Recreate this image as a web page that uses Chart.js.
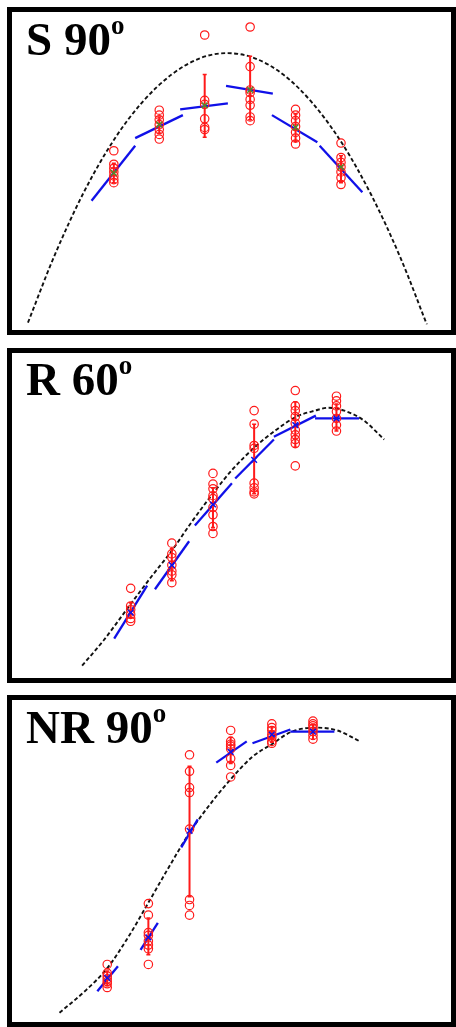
<!DOCTYPE html>
<html>
<head>
<meta charset="utf-8">
<script src="https://cdn.jsdelivr.net/npm/chart.js@4.4.0/dist/chart.umd.min.js"></script>
<style>
  body { margin: 0; background: #fff; width: 456px; height: 1027px; overflow: hidden; position: relative; }
  .panel { position: absolute; left: 7px; width: 449px; box-sizing: border-box; border: 5px solid #000; background: #fff; }
  .panel canvas { display: block; }
  .label { position: absolute; left: 26px; font-family: "Liberation Serif", "Times New Roman", serif; font-weight: bold; font-size: 47px; line-height: 46px; color: #000; white-space: nowrap; }
  .label sup { font-size: 27px; vertical-align: 21px; line-height: 0; }
</style>
</head>
<body>
<div class="panel" style="top:7px;height:328px"><canvas id="s90" width="439" height="318"></canvas></div>
<div class="panel" style="top:348px;height:335px"><canvas id="r60" width="439" height="325"></canvas></div>
<div class="panel" style="top:695px;height:332px"><canvas id="nr90" width="439" height="322"></canvas></div>
<div class="label" style="top:16px">S 90<sup>o</sup></div>
<div class="label" style="top:356px">R 60<sup>o</sup></div>
<div class="label" style="top:704px">NR 90<sup>o</sup></div>
<script>
// group positions along x (same six conditions in each panel)
const groupX = [1, 2, 3, 4, 5, 6];

// ---- S 90 ----
const s90Circles = [
    [56.6, 52.2, 50.9, 49.7, 48.4, 47.2, 46.2],
    [69.8, 68.2, 66.7, 65.1, 63.5, 61.9, 60.4],
    [94.3, 73.0, 71.7, 67.0, 64.2, 63.5],
    [96.9, 84.0, 76.4, 75.5, 73.3, 71.4, 67.6, 66.4],
    [70.1, 68.2, 66.4, 64.5, 62.6, 60.7, 58.8],
    [59.1, 54.4, 52.8, 51.3, 49.7, 47.8, 45.6]
];
const s90Means = [49.4, 65.1, 71.4, 76.4, 64.2, 51.3];
const s90ErrLow = [46.2, 62.3, 61.0, 66.7, 59.7, 46.2];
const s90ErrHigh = [52.5, 67.6, 81.4, 87.4, 68.6, 55.0];
const s90FitX = [[0.51, 1.47], [1.47, 2.52], [2.46, 3.51], [3.47, 4.50], [4.48, 5.48], [5.53, 6.47]];
const s90FitY = [[40.3, 58.2], [60.7, 68.2], [70.1, 72.0], [77.7, 75.2], [68.2, 59.4], [58.2, 43.1]];
const s90CurveX = [-0.89, -0.31, 0.33, 1.00, 1.62, 2.27, 2.91, 3.49, 4.09, 4.73, 5.38, 6.02, 6.67, 7.31, 7.89];
const s90CurveY = [0.6, 22.3, 42.8, 60.1, 72.3, 81.4, 86.8, 88.4, 86.8, 81.4, 72.0, 59.1, 42.1, 21.7, 0.0];

// ---- R 60 ----
const r60Circles = [
    [26.8, 21.2, 20.0, 18.5, 17.2, 16.3],
    [41.2, 37.8, 36.6, 34.2, 32.3, 31.1, 28.6],
    [63.4, 60.0, 58.5, 56.3, 55.4, 52.6, 50.2, 46.5, 44.3],
    [83.4, 79.1, 72.3, 71.4, 60.3, 58.8, 57.5, 56.9],
    [89.8, 84.9, 83.4, 81.5, 79.4, 77.2, 75.7, 74.2, 72.9, 65.8],
    [88.0, 86.5, 84.9, 83.1, 80.9, 78.8, 76.9]
];
const r60Means = [19.1, 34.2, 53.5, 67.7, 78.8, 80.9];
const r60ErrLow = [17.5, 29.2, 46.2, 56.9, 71.7, 76.9];
const r60ErrHigh = [22.2, 39.4, 58.8, 79.1, 86.2, 85.5];
const r60FitX = [[0.60, 1.40], [1.59, 2.42], [2.56, 3.46], [3.54, 4.48], [4.48, 5.50], [5.48, 6.55]];
const r60FitY = [[10.8, 27.7], [26.5, 41.8], [46.8, 60.3], [61.8, 74.2], [75.1, 81.8], [80.9, 80.9]];
const r60CurveX = [-0.18, 0.34, 1.00, 1.52, 2.00, 2.47, 3.01, 3.49, 4.01, 4.53, 5.03, 5.48, 5.79, 6.19, 6.66, 7.16];
const r60CurveY = [2.2, 10.2, 21.8, 30.8, 38.8, 47.7, 57.2, 64.9, 71.7, 77.2, 81.5, 83.4, 84.3, 83.4, 80.3, 74.2];

// ---- NR 90 ----
const nr90Circles = [
    [17.0, 14.2, 13.3, 12.4, 11.5, 10.8, 9.6],
    [36.5, 32.8, 27.2, 26.3, 24.5, 23.2, 22.0, 17.0],
    [84.2, 78.9, 73.7, 72.1, 60.4, 37.8, 35.9, 32.8],
    [92.0, 88.5, 87.6, 87.0, 86.1, 83.0, 80.8, 77.1],
    [94.1, 92.9, 92.0, 90.7, 89.8, 88.5, 87.9],
    [95.0, 94.1, 93.5, 92.6, 91.6, 90.4, 89.2]
];
const nr90Means = [12.7, 25.7, 59.8, 85.1, 90.7, 91.6];
const nr90ErrLow = [10.2, 20.1, 38.7, 81.4, 88.2, 89.2];
const nr90ErrHigh = [14.9, 31.9, 80.5, 89.8, 93.2, 94.1];
const nr90FitX = [[0.76, 1.26], [1.81, 2.23], [2.80, 3.20], [3.65, 4.39], [4.53, 5.45], [5.45, 6.52]];
const nr90FitY = [[8.4, 16.4], [21.7, 30.3], [54.5, 63.5], [81.7, 88.5], [87.9, 92.3], [91.6, 91.6]];
const nr90CurveX = [-0.16, 0.48, 1.00, 1.55, 2.00, 2.49, 3.01, 3.58, 4.03, 4.53, 5.00, 5.48, 6.07, 6.59, 7.14];
const nr90CurveY = [1.5, 8.7, 15.8, 26.6, 36.8, 48.0, 59.4, 69.7, 76.8, 83.6, 87.6, 91.6, 92.9, 92.0, 88.5];

const RED = "#ff1a1a";
const BLUE = "#1010e8";

function buildPanel(id, p) {
    const datasets = [];

    // mean markers on top
    datasets.push({
        data: groupX.map((x, i) => ({ x: x, y: p.means[i] })),
        pointStyle: "crossRot",
        pointRadius: 4,
        borderColor: p.meanColor,
        borderWidth: 1.5,
        showLine: false
    });

    // individual observations
    const pts = [];
    p.circles.forEach((vals, i) => vals.forEach(v => pts.push({ x: groupX[i], y: v })));
    datasets.push({
        data: pts,
        pointStyle: "circle",
        pointRadius: 4.2,
        borderColor: RED,
        backgroundColor: "rgba(0,0,0,0)",
        borderWidth: 1.2,
        showLine: false
    });

    // error bars
    groupX.forEach((x, i) => {
        datasets.push({
            data: [{ x: x, y: p.errLow[i] }, { x: x, y: p.errHigh[i] }],
            showLine: true,
            borderColor: RED,
            borderWidth: 2,
            pointStyle: "line",
            pointRadius: 2,
            pointBorderColor: RED,
            pointBorderWidth: 1.5
        });
    });

    // local fit segments
    p.fitX.forEach((xs, i) => {
        datasets.push({
            data: [{ x: xs[0], y: p.fitY[i][0] }, { x: xs[1], y: p.fitY[i][1] }],
            showLine: true,
            borderColor: BLUE,
            borderWidth: 2.3,
            pointRadius: 0
        });
    });

    // model curve
    datasets.push({
        data: p.curveX.map((x, i) => ({ x: x, y: p.curveY[i] })),
        showLine: true,
        borderColor: "#111",
        borderWidth: 1.9,
        borderDash: [4, 2.5],
        pointRadius: 0,
        cubicInterpolationMode: "monotone"
    });

    new Chart(document.getElementById(id).getContext("2d"), {
        type: "scatter",
        data: { datasets: datasets },
        options: {
            responsive: false,
            animation: false,
            layout: { padding: 0 },
            plugins: { legend: { display: false }, tooltip: { enabled: false } },
            scales: {
                x: { type: "linear", display: false, min: p.xMin, max: p.xMax },
                y: { type: "linear", display: false, min: p.yMin, max: p.yMax }
            }
        }
    });
}

buildPanel("s90", {
    circles: s90Circles, means: s90Means, errLow: s90ErrLow, errHigh: s90ErrHigh,
    fitX: s90FitX, fitY: s90FitY, curveX: s90CurveX, curveY: s90CurveY,
    meanColor: "#4f8a2c", xMin: -1.12, xMax: 8.30, yMin: 0, yMax: 100
});
buildPanel("r60", {
    circles: r60Circles, means: r60Means, errLow: r60ErrLow, errHigh: r60ErrHigh,
    fitX: r60FitX, fitY: r60FitY, curveX: r60CurveX, curveY: r60CurveY,
    meanColor: BLUE, xMin: -1.75, xMax: 8.65, yMin: 0, yMax: 100
});
buildPanel("nr90", {
    circles: nr90Circles, means: nr90Means, errLow: nr90ErrLow, errHigh: nr90ErrHigh,
    fitX: nr90FitX, fitY: nr90FitY, curveX: nr90CurveX, curveY: nr90CurveY,
    meanColor: BLUE, xMin: -1.18, xMax: 9.22, yMin: 0.31, yMax: 100
});
</script>
</body>
</html>
